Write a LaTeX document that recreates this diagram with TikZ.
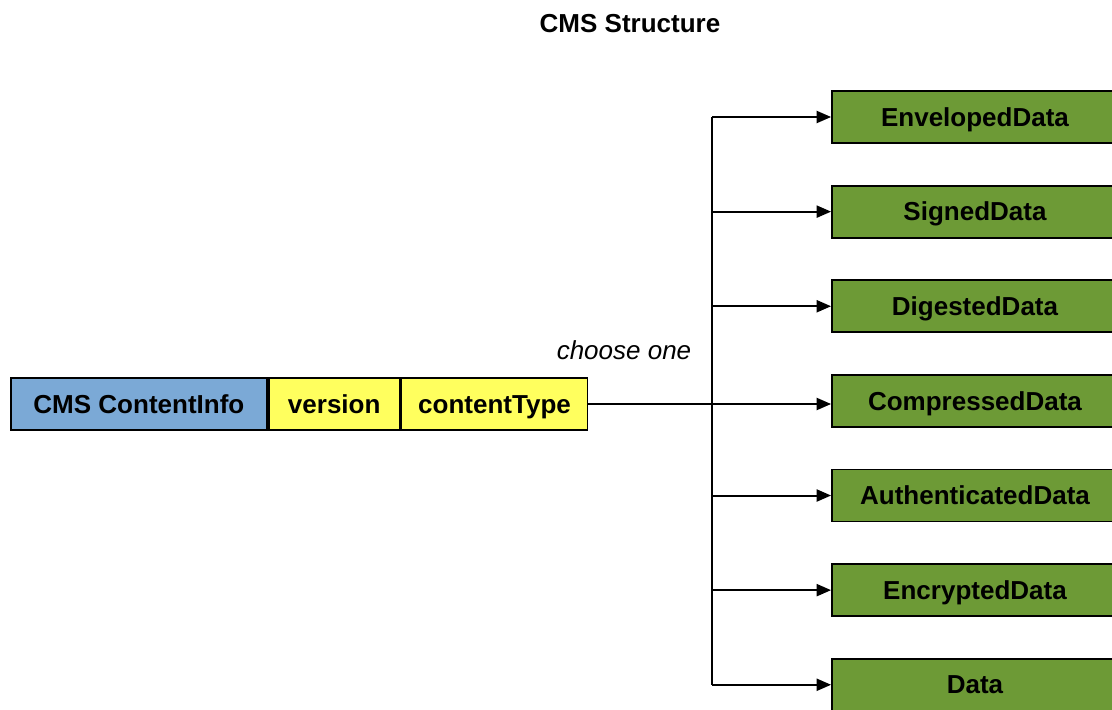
\documentclass[tikz,border=0pt]{standalone}
\usepackage{fontspec}
\setmainfont{Liberation Sans}
\usepackage{xcolor}
\usetikzlibrary{positioning,arrows.meta,calc}
\definecolor{infoCol}{HTML}{7BA9D6}
\definecolor{fieldCol}{HTML}{FFFF5E}
\definecolor{typeCol}{HTML}{6D9A36}

\begin{document}
\begin{tikzpicture}[
    >={Triangle[length=3.6mm,width=3mm]},
    font=\fontsize{18.5}{22}\selectfont\bfseries,
    node distance=10.2mm and 0mm,
    box/.style={draw, line width=1.3pt, minimum height=13mm, inner sep=0pt,
      text height=13pt, text depth=0pt, anchor=center},
    field/.style={box, fill=fieldCol},
    ctype/.style={box, fill=typeCol, minimum width=71.5mm},
    arr/.style={->, line width=1.4pt},
    line/.style={line width=1.4pt},
  ]
\useasboundingbox (0,0) rectangle (27.8,-17.725);

% Title
\node (title) at (15.75,-0.6) {CMS Structure};

% Content types
\node[ctype] (env) at (24.375,-2.925) {EnvelopedData};
\node[ctype, below=of env] (sig) {SignedData};
\node[ctype, below=of sig] (dig) {DigestedData};
\node[ctype, below=of dig] (cmp) {CompressedData};
\node[ctype, below=of cmp] (aut) {AuthenticatedData};
\node[ctype, below=of aut] (enc) {EncryptedData};
\node[ctype, below=of enc] (dat) {Data};

% ContentInfo fields
\node[box, fill=infoCol, minimum width=64mm, anchor=west] (info) at (0.25,-10.1) {CMS ContentInfo};
\node[field, minimum width=32.75mm, right=of info] (ver) {version};
\node[field, minimum width=46.5mm, right=of ver] (ct) {contentType};
\node[font=\fontsize{18.5}{22}\selectfont\itshape] (pick) at (15.6,-8.75) {choose one};

% Branching to the content types
\coordinate (bus) at (17.8,-10.02);
\draw[line] (bus |- env.west) -- (bus |- dat.west);
\draw[arr] (ct.east) -- (ct.east -| cmp.west);
\draw[arr] (bus |- env.west) -- (env.west);
\draw[arr] (bus |- sig.west) -- (sig.west);
\draw[arr] (bus |- dig.west) -- (dig.west);
\draw[arr] (bus |- aut.west) -- (aut.west);
\draw[arr] (bus |- enc.west) -- (enc.west);
\draw[arr] (bus |- dat.west) -- (dat.west);

\end{tikzpicture}
\end{document}
